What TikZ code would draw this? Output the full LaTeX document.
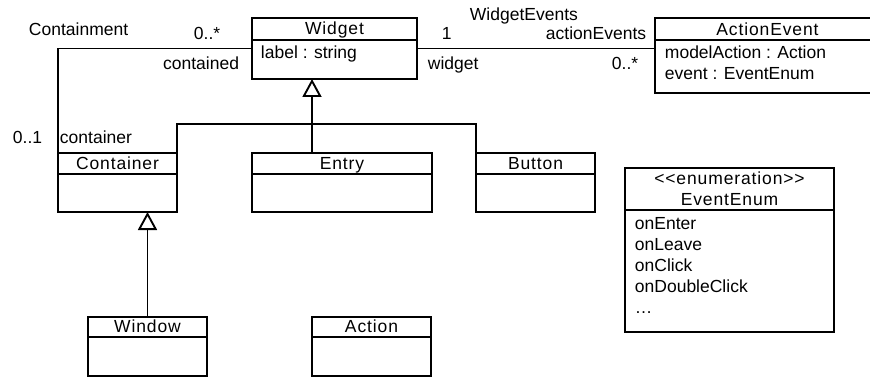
\documentclass[tikz,border=0pt]{standalone}
\usepackage{fontspec}
\setmainfont{Liberation Sans}
\newfontfamily\headfont[LetterSpace=5]{Liberation Sans}
\usetikzlibrary{arrows.meta}

\tikzset{
  classbox/.style={draw, rectangle, inner sep=0pt, outer sep=0pt, anchor=north west},
  cname/.style={inner sep=0pt, anchor=base, font=\headfont\fontsize{17.5}{21}\selectfont},
  txt/.style={inner sep=0pt, anchor=base west, font=\fontsize{17.5}{21}\selectfont},
  generalize/.style={-{Triangle[open,width=19pt,length=18pt]}}
}

\begin{document}
\begin{tikzpicture}[x=1pt,y=1pt,yscale=-1,xscale=1,line width=1.9pt]
\useasboundingbox (0,0) rectangle (870,377);

%Shape: Rectangle [Widget]
\node (widget) [classbox, minimum width=165, minimum height=61] at (252,18) {};
\draw ([yshift=22pt]widget.north west) -- ([yshift=22pt]widget.north east) ;
\node (widget-name) [cname] at (334.5,35) {Widget};
\node (widget-label) [txt] at (260,59) {label : string};

%Shape: Rectangle [ActionEvent]
\node (actionevent) [classbox, minimum width=225, minimum height=75] at (655,18) {};
\draw ([yshift=22pt]actionevent.north west) -- ([yshift=22pt]actionevent.north east) ;
\node (actionevent-name) [cname] at (767.5,35.5) {ActionEvent};
\node (actionevent-model) [txt] at (664,59) {modelAction : Action};
\node (actionevent-event) [txt] at (664,80) {event : EventEnum};

%Shape: Rectangle [Container]
\node (container) [classbox, minimum width=119, minimum height=59] at (58,153) {};
\draw ([yshift=21pt]container.north west) -- ([yshift=21pt]container.north east) ;
\node (container-name) [cname] at (117.5,169.5) {Container};

%Shape: Rectangle [Entry]
\node (entry) [classbox, minimum width=180, minimum height=59] at (252,153) {};
\draw ([yshift=21pt]entry.north west) -- ([yshift=21pt]entry.north east) ;
\node (entry-name) [cname] at (342,169.5) {Entry};

%Shape: Rectangle [Button]
\node (button) [classbox, minimum width=119, minimum height=59] at (476,153) {};
\draw ([yshift=21pt]button.north west) -- ([yshift=21pt]button.north east) ;
\node (button-name) [cname] at (535.5,169.5) {Button};

%Shape: Rectangle [EventEnum]
\node (eventenum) [classbox, minimum width=209, minimum height=164] at (625,168) {};
\draw ([yshift=42pt]eventenum.north west) -- ([yshift=42pt]eventenum.north east) ;
\node (eventenum-stereo) [cname] at (729.5,184) {<{}<enumeration>{}>};
\node (eventenum-name) [cname] at (729.5,205) {EventEnum};
\node (eventenum-enter) [txt] at (634,229) {onEnter};
\node (eventenum-leave) [txt] at (634,250) {onLeave};
\node (eventenum-click) [txt] at (634,271) {onClick};
\node (eventenum-dbl) [txt] at (634,292) {onDoubleClick};
\node (eventenum-more) [txt] at (634,313) {\ldots};

%Shape: Rectangle [Window]
\node (window) [classbox, minimum width=119, minimum height=59] at (88,317) {};
\draw ([yshift=20pt]window.north west) -- ([yshift=20pt]window.north east) ;
\node (window-name) [cname] at (147.5,332.5) {Window};

%Shape: Rectangle [Action]
\node (action) [classbox, minimum width=119, minimum height=59] at (312,317) {};
\draw ([yshift=20pt]action.north west) -- ([yshift=20pt]action.north east) ;
\node (action-name) [cname] at (371.5,332.5) {Action};

%Straight Lines [Containment]
\draw (widget.west) -| (container.north west) ;
%Straight Lines [WidgetEvents]
\draw (widget.east) -- (widget.east -| actionevent.west) ;

%Straight Lines [Widget generalization]
\coordinate (gen) at (312,124) ;
\draw [generalize] (gen) -- (gen |- widget.south) ;
\draw (container.north east) |- (gen) -| (button.north west) ;
\draw (gen |- entry.north) -- (gen) ;
%Straight Lines [Container generalization]
\draw [generalize] (window.north) -- (window.north |- container.south) ;

% Text Node
\node (lbl-containment) [txt] at (28,35.5) {Containment};
% Text Node
\node (lbl-contained-mult) [txt] at (193,39.5) {0..*};
% Text Node
\node (lbl-contained) [txt, anchor=base east] at (240,69.3) {contained};
% Text Node
\node (lbl-container-mult) [txt] at (12,144) {0..1};
% Text Node
\node (lbl-container) [txt] at (59,144) {container};
% Text Node
\node (lbl-widgetevents) [txt] at (469,20.7) {WidgetEvents};
% Text Node
\node (lbl-widget-mult) [txt] at (441,40) {1};
% Text Node
\node (lbl-actionevents) [txt] at (545,40) {actionEvents};
% Text Node
\node (lbl-widget) [txt] at (427,69.3) {widget};
% Text Node
\node (lbl-actionevents-mult) [txt] at (611,69.3) {0..*};

\end{tikzpicture}
\end{document}
